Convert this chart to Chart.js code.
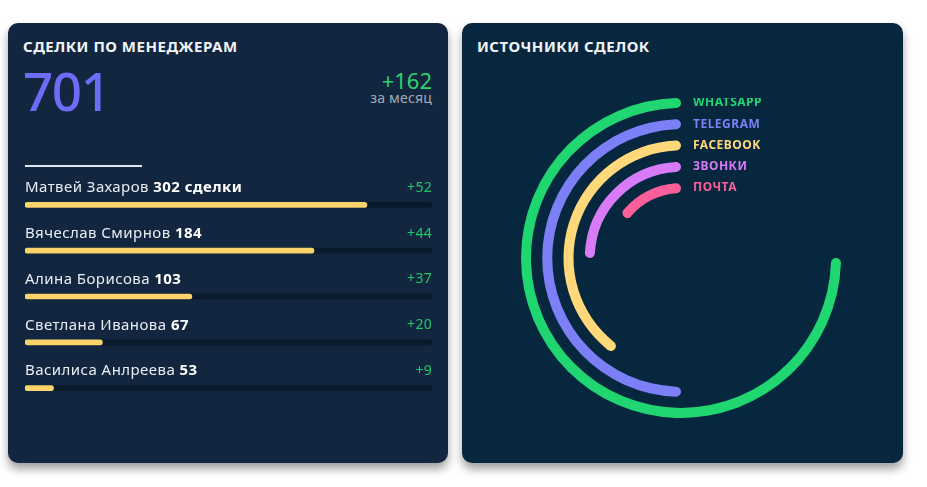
<!DOCTYPE html>
<html lang="ru">
<head>
<meta charset="utf-8">
<title>Сделки</title>
<script src="https://cdn.jsdelivr.net/npm/chart.js@4.4.1/dist/chart.umd.min.js"></script>
<style>
  html, body { margin: 0; padding: 0; background: #fff; }
  body { width: 927px; height: 487px; position: relative; overflow: hidden; font-family: "Noto Sans", sans-serif; }
  .card { position: absolute; top: 23px; height: 440px; border-radius: 10px; box-shadow: 0 6px 10px rgba(0,0,0,0.38); }
  .card.left { left: 8px; width: 440px; background: #13263f; }
  .card.right { left: 462px; width: 441px; background: #06273e; }
  .title { position: absolute; top: 13px; left: 15px; color: #f1f4f8; font-weight: 700; font-size: 15px; letter-spacing: 0.5px; }
  .total { position: absolute; left: 15px; top: 41px; color: #6c6cf6; font-size: 53px; font-weight: 500; letter-spacing: -1.5px; line-height: 1; }
  .delta { position: absolute; right: 16px; top: 46px; color: #2ed36e; font-size: 22px; line-height: 1; }
  .period { position: absolute; right: 16px; top: 68px; color: #a0aab8; font-size: 14px; letter-spacing: 0.2px; line-height: 1; }
  .rule { position: absolute; left: 17px; top: 142px; width: 117px; height: 2px; background: #dfe5ec; }
  canvas { position: absolute; }
</style>
</head>
<body>
<div class="card left">
  <div class="title">СДЕЛКИ ПО МЕНЕДЖЕРАМ</div>
  <div class="total">701</div>
  <div class="delta">+162</div>
  <div class="period">за месяц</div>
  <div class="rule"></div>
</div>
<div class="card right">
  <div class="title">ИСТОЧНИКИ СДЕЛОК</div>
</div>
<canvas id="managers" width="440" height="251" style="left:8px;top:160px"></canvas>
<canvas id="sources" width="320" height="320" style="left:521px;top:98px"></canvas>
<script>
// managers
const managerNames = ['Матвей Захаров', 'Вячеслав Смирнов', 'Алина Борисова', 'Светлана Иванова', 'Василиса Анлреева'];
const managerDeals = ['302 сделки', '184', '103', '67', '53'];
const managerShare = [84, 71, 41, 19, 7];
const managerDelta = ['+52', '+44', '+37', '+20', '+9'];

// sources
const sourceLabels = ['WHATSAPP', 'TELEGRAM', 'FACEBOOK', 'ЗВОНКИ', 'ПОЧТА'];
const sourceValues = [75, 50, 40, 25, 15];
const sourceColors = ['#1fd670', '#7d7ff6', '#ffd87a', '#d87bf7', '#fa5f9a'];

const FONT = '"Noto Sans", sans-serif';

// names, deals and deltas above each bar
const rowLabels = {
  id: 'rowLabels',
  afterDatasetsDraw(chart) {
    const ctx = chart.ctx;
    const area = chart.chartArea;
    const bars = chart.getDatasetMeta(0).data;
    ctx.save();
    ctx.textBaseline = 'middle';
    bars.forEach((bar, i) => {
      const y = bar.y - 17;
      ctx.letterSpacing = '0.45px';
      ctx.textAlign = 'left';
      ctx.fillStyle = '#e9eef4';
      ctx.font = '15px ' + FONT;
      const name = managerNames[i] + ' ';
      ctx.fillText(name, area.left, y);
      const w = ctx.measureText(name).width;
      ctx.font = 'bold 15px ' + FONT;
      ctx.fillStyle = '#ffffff';
      ctx.fillText(managerDeals[i], area.left + w, y);
      ctx.textAlign = 'right';
      ctx.font = '14px ' + FONT;
      ctx.fillStyle = '#22c767';
      ctx.letterSpacing = '0.3px';
      ctx.fillText(managerDelta[i], area.right, y);
    });
    ctx.restore();
  }
};

new Chart(document.getElementById('managers'), {
  type: 'bar',
  data: {
    labels: managerNames,
    datasets: [
      {
        data: managerShare,
        backgroundColor: '#fdd46b',
        barThickness: 5,
        borderRadius: 3,
        borderSkipped: false,
        grouped: false
      },
      {
        data: managerNames.map(() => 100),
        backgroundColor: '#081a2b',
        barThickness: 5,
        borderRadius: 3,
        borderSkipped: false,
        grouped: false
      }
    ]
  },
  options: {
    indexAxis: 'y',
    responsive: false,
    animation: false,
    events: [],
    layout: { padding: { left: 17, right: 16, top: 22, bottom: 0 } },
    scales: {
      x: { display: false, min: 0, max: 100 },
      y: { display: false }
    },
    plugins: { legend: { display: false }, tooltip: { enabled: false } }
  },
  plugins: [rowLabels]
});

// rings, with transparent spacer rings between them
const ringDatasets = [];
sourceValues.forEach((v, i) => {
  if (i > 0) {
    ringDatasets.push({ data: [100], backgroundColor: 'rgba(0,0,0,0)', borderWidth: 0, weight: 1.125, spacer: true });
  }
  ringDatasets.push({
    label: sourceLabels[i],
    data: [100 - v, v],
    backgroundColor: ['rgba(0,0,0,0)', sourceColors[i]],
    borderWidth: 0,
    borderRadius: [0, 5],
    weight: 1
  });
});

const ringLabels = {
  id: 'ringLabels',
  afterDatasetsDraw(chart) {
    const ctx = chart.ctx;
    ctx.save();
    ctx.font = 'bold 12px ' + FONT;
    ctx.letterSpacing = '0.5px';
    ctx.textAlign = 'left';
    ctx.textBaseline = 'middle';
    let k = 0;
    chart.data.datasets.forEach((ds, di) => {
      if (ds.spacer) return;
      const arc = chart.getDatasetMeta(di).data[1];
      const r = (arc.outerRadius + arc.innerRadius) / 2;
      ctx.fillStyle = sourceColors[k];
      ctx.fillText(sourceLabels[k], arc.x + 12, arc.y - r);
      k++;
    });
    ctx.restore();
  }
};

new Chart(document.getElementById('sources'), {
  type: 'doughnut',
  data: { labels: ['', ''], datasets: ringDatasets },
  options: {
    responsive: false,
    animation: false,
    events: [],
    radius: 160,
    cutout: 65,
    plugins: { legend: { display: false }, tooltip: { enabled: false } }
  },
  plugins: [ringLabels]
});
</script>
</body>
</html>
